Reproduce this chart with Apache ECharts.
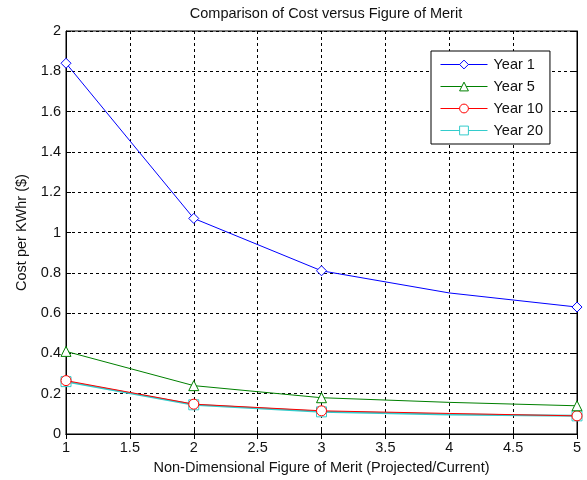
<!DOCTYPE html>
<html><head><meta charset="utf-8">
<script src="https://cdn.jsdelivr.net/npm/echarts@6/dist/echarts.min.js"></script>
<style>html,body{margin:0;padding:0;background:#fff}#c{width:587px;height:480px}</style>
</head><body><div id="c"></div>
<script>
const xValues = [1, 2, 3, 4, 5];
const showMarker = [true, true, true, false, true];
const year1 = [1.84, 1.07, 0.81, 0.70, 0.63];
const year5 = [0.41, 0.24, 0.18, 0.157, 0.14];
const year10 = [0.265, 0.148, 0.115, 0.102, 0.09];
const year20 = [0.26, 0.145, 0.11, 0.097, 0.09];
const seriesNames = ['Year 1', 'Year 5', 'Year 10', 'Year 20'];

const font = 'Liberation Sans, Arial, sans-serif';
const fs = 14.5;
const chart = echarts.init(document.getElementById('c'));
function pts(arr){ return xValues.map((x,i)=>({value:[x, arr[i]], symbol: showMarker[i] ? undefined : 'none'})); }
function mk(name, data, color, symbol, z, lw){
  return {name, type:'line', data:pts(data), symbol, symbolSize:10, showSymbol:true,
    lineStyle:{color, width:lw}, itemStyle:{color:'#fff', borderColor:color, borderWidth:1},
    color, z, animation:false};
}
const dashed = {show:true, lineStyle:{color:'#000', type:[3,3], width:1}};
const tick = {show:true, inside:true, length:5, lineStyle:{color:'#000'}};
chart.setOption({
  animation:false,
  title:{text:'Comparison of Cost versus Figure of Merit', left:321, textAlign:'center', top:1,
    textStyle:{fontFamily:font, fontSize:fs, fontWeight:'normal', color:'#111'}},
  grid:{left:66, right:10, top:31, bottom:46, show:true, borderColor:'#000', borderWidth:1, backgroundColor:'#fff'},
  legend:{show:true, orient:'vertical', left:431, top:51,
    backgroundColor:'#fff', borderColor:'#000', borderWidth:1, padding:[6,7,6,9],
    itemWidth:47, itemHeight:11, itemGap:7,
    lineStyle:{width:1}, itemStyle:{borderWidth:1},
    textStyle:{fontFamily:font, fontSize:fs, color:'#111', padding:[0,0,0,1]}, data:seriesNames},
  xAxis:[{type:'value', min:1, max:5, interval:0.5, position:'bottom',
    name:'Non-Dimensional Figure of Merit (Projected/Current)', nameLocation:'middle', nameGap:26,
    nameTextStyle:{fontFamily:font, fontSize:fs, color:'#111'},
    axisLine:{show:true, lineStyle:{color:'#000'}}, axisTick:tick,
    axisLabel:{fontFamily:font, fontSize:fs, color:'#111', margin:6}, splitLine:dashed},
   {type:'value', min:1, max:5, interval:0.5, position:'top',
    axisLine:{show:true, lineStyle:{color:'#000'}}, axisTick:tick,
    axisLabel:{show:false}, splitLine:{show:false}}],
  yAxis:[{type:'value', min:0, max:2, interval:0.2, position:'left',
    name:'Cost per KWhr ($)', nameLocation:'middle', nameGap:29,
    nameTextStyle:{fontFamily:font, fontSize:fs, color:'#111'},
    axisLine:{show:true, lineStyle:{color:'#000'}}, axisTick:tick,
    axisLabel:{fontFamily:font, fontSize:fs, color:'#111', margin:5, formatter:v=>String(Math.round(v*10)/10)}, splitLine:dashed},
   {type:'value', min:0, max:2, interval:0.2, position:'right',
    axisLine:{show:true, lineStyle:{color:'#000'}}, axisTick:tick,
    axisLabel:{show:false}, splitLine:{show:false}}],
  series:[
    mk('Year 1', year1, '#0000ff', 'diamond', 5, 1),
    mk('Year 5', year5, '#008000', 'triangle', 5, 1),
    mk('Year 20', year20, '#33cccc', 'rect', 3, 2),
    mk('Year 10', year10, '#ff0000', 'circle', 4, 1)
  ]
});
</script></body></html>
